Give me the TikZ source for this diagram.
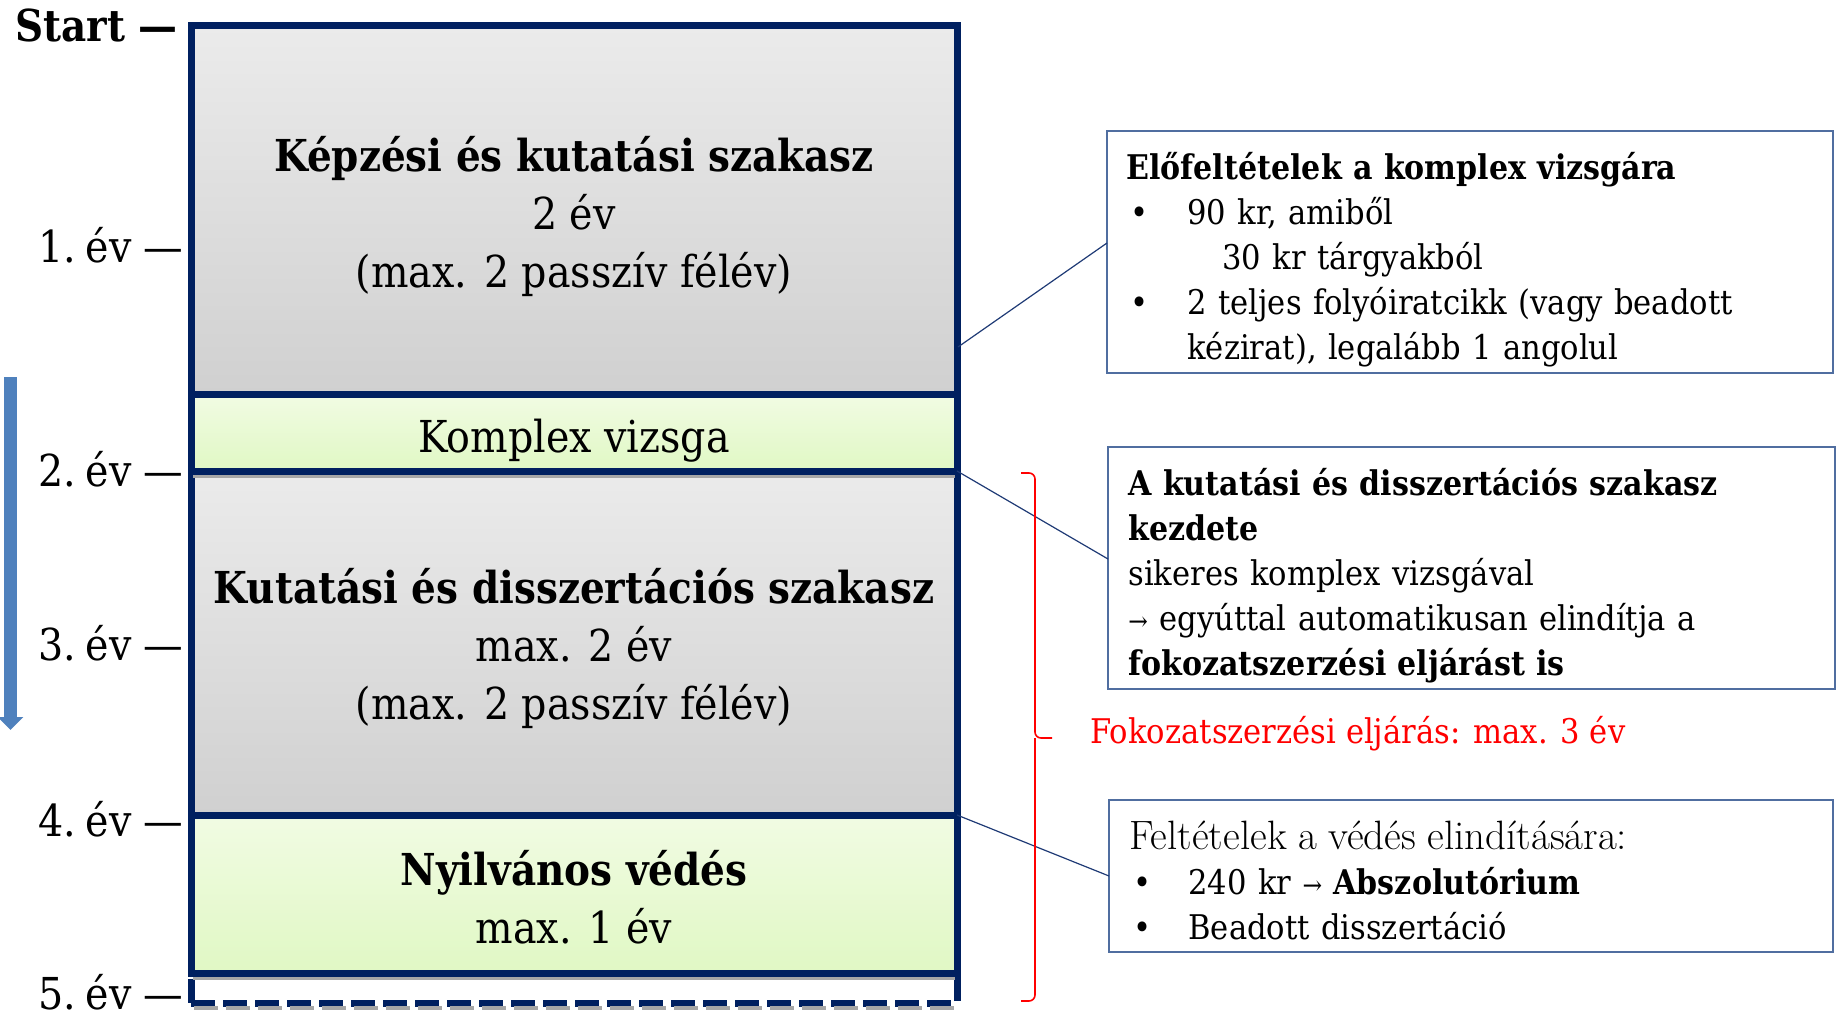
\documentclass[tikz,border=0pt]{standalone}
\usepackage{fontspec}
\setmainfont{DejaVu Serif}[FakeStretch=0.9, BoldFeatures={FakeStretch=0.885}]
\newfontfamily\lmr{Latin Modern Roman}
\usetikzlibrary{arrows.meta,calc}
\definecolor{navy}{HTML}{002060}
\definecolor{gtop}{HTML}{EBEBEB}
\definecolor{gbot}{HTML}{D0D0D0}
\definecolor{grtop}{HTML}{F1FBE3}
\definecolor{grbot}{HTML}{E0F8C4}
\definecolor{cbord}{HTML}{506EA0}
\definecolor{connc}{HTML}{1F3A75}
\definecolor{arrowblue}{HTML}{4F81BD}
\newcommand{\smarr}{{\fontsize{13}{13}\selectfont →}}
\newcommand{\bul}[1]{\makebox[#1][l]{\hspace*{2pt}•}}
\begin{document}
\begin{tikzpicture}[x=0.5pt,y=-0.5pt,
  phase/.style={draw=navy, line width=3.5pt, outer sep=0pt, inner sep=0pt, anchor=north west,
    minimum width=383pt},
  grayph/.style={phase, top color=gtop, bottom color=gbot},
  greenph/.style={phase, top color=grtop, bottom color=grbot},
  phtext/.style={align=center, inner sep=0pt, font=\fontsize{22}{29}\selectfont},
  callout/.style={draw=cbord, line width=0.8pt, anchor=north west, outer sep=0pt, inner sep=0pt},
  caltext/.style={anchor=west, inner sep=0pt, align=left, font=\fontsize{17}{22.5}\selectfont},
  yearlbl/.style={anchor=base east, font=\fontsize{22}{26}\selectfont, inner sep=0pt},
  conn/.style={draw=connc, line width=0.6pt},
  shade/.style={draw=black!35, line width=1.75pt},
  bracket/.style={draw=red, line width=0.8pt, rounded corners=3pt}]
\useasboundingbox (0,0) rectangle (1841,1016);

% main column
\node[phase, fill=white, dash pattern=on 12pt off 4pt, minimum height=15pt] (b5) at (191,973) {};
\draw[shade, dash pattern=on 12pt off 4pt] ($(b5.south west)+(3,5)$) -- ($(b5.south east)+(3,5)$);
\node[grayph, minimum height=184.25pt] (kepz) at (191,26) {};
\node[greenph, minimum height=38.25pt] (komp) at (191,394.5) {};
\node[grayph, minimum height=172pt] (kut) at (191,471) {};
\node[greenph, minimum height=79pt] (ved) at (191,815) {};
\draw[shade] ($(komp.south west)+(2,5.5)$) -- ($(komp.south east)+(-2,5.5)$);
\draw[shade] ($(ved.south west)+(2,5.5)$) -- ($(ved.south east)+(-2,5.5)$);
\draw[navy, line width=3.5pt] (komp.south west) -- (komp.south east);

\node[phtext] (kepzt) at ($(kepz.center)+(0,6.5)$)
  {\textbf{Képzési és kutatási szakasz}\\2 év\\(max. 2 passzív félév)};
\node[phtext] (kompt) at ($(komp.center)+(0,8)$) {Komplex vizsga};
\node[phtext] (kutt) at ($(kut.center)+(0,5)$)
  {\textbf{Kutatási és disszertációs szakasz}\\max. 2 év\\(max. 2 passzív félév)};
\node[phtext] (vedt) at ($(ved.center)+(0,3)$)
  {\textbf{Nyilvános védés}\\max. 1 év};

% year labels
\node[yearlbl, font=\fontsize{22}{26}\selectfont\bfseries] (lstart) at (178,42) {Start —};
\node[yearlbl] (l1) at (184,263) {1.\hspace{0.22em}év —};
\node[yearlbl] (l2) at (184,486) {2.\hspace{0.22em}év —};
\node[yearlbl] (l3) at (184,660) {3.\hspace{0.22em}év —};
\node[yearlbl] (l4) at (184,836) {4.\hspace{0.22em}év —};
\node[yearlbl] (l5) at (184,1009) {5.\hspace{0.22em}év —};

% blue arrow
\coordinate (atop) at (10.5,377);
\coordinate (abot) at (10.5,730);
\draw[arrowblue, line width=6.5pt, -{Triangle[width=12.5pt,length=6.5pt]}] (atop) -- (abot);

% callouts
\node[callout, minimum width=363pt, minimum height=121pt] (call1) at (1107,131) {};
\node[caltext, text width=344pt] (call1t) at ($(call1.west)+(19,8)$)
  {\textbf{Előfeltételek a komplex vizsgára}\\
   \bul{30.5pt}90 kr, amiből\\
   \hspace*{48pt}30 kr tárgyakból\\
   \bul{30.5pt}2 teljes folyóiratcikk (vagy beadott\\
   \hspace*{30.5pt}kézirat), legalább 1 angolul};
\node[callout, minimum width=363.5pt, minimum height=121pt] (call2) at (1108,447) {};
\node[caltext, text width=343.5pt] (call2t) at ($(call2.west)+(20,8)$)
  {\textbf{A kutatási és disszertációs szakasz}\\
   \textbf{kezdete}\\
   sikeres komplex vizsgával\\
   \smarr{} egyúttal automatikusan elindítja a\\
   \textbf{fokozatszerzési eljárást is}};
\node[callout, minimum width=362pt, minimum height=76pt] (call3) at (1109,800) {};
\node[caltext, text width=342pt] (call3t) at ($(call3.west)+(20,4)$)
  {{\lmr\fontsize{20.5}{22.5}\selectfont Feltételek a védés elindítására:}\\
   \bul{29.5pt}240 kr \smarr{} \textbf{Abszolutórium}\\
   \bul{29.5pt}Beadott disszertáció};

% connectors
\coordinate (c1s) at (958,347);
\draw[conn] (c1s) -- ($(call1.west)+(0,-9)$);
\draw[conn] (kut.north east) -- ($(call2.west)+(0,-9)$);
\draw[conn] (ved.north east) -- (call3.west);

% red bracket and label
\coordinate (brt) at (1021,473);
\coordinate (brm) at (1035,738);
\coordinate (brtip) at (1052,738);
\coordinate (brb) at (1021,1001);
\draw[bracket] (brt) -| (brm) -- (brtip);
\draw[bracket] (brm) |- (brb);
\node[anchor=west, text=red, inner sep=0pt, font=\fontsize{17}{20}\selectfont] (fok) at (1090,734)
  {Fokozatszerzési eljárás: max. 3 év};
\end{tikzpicture}
\end{document}
